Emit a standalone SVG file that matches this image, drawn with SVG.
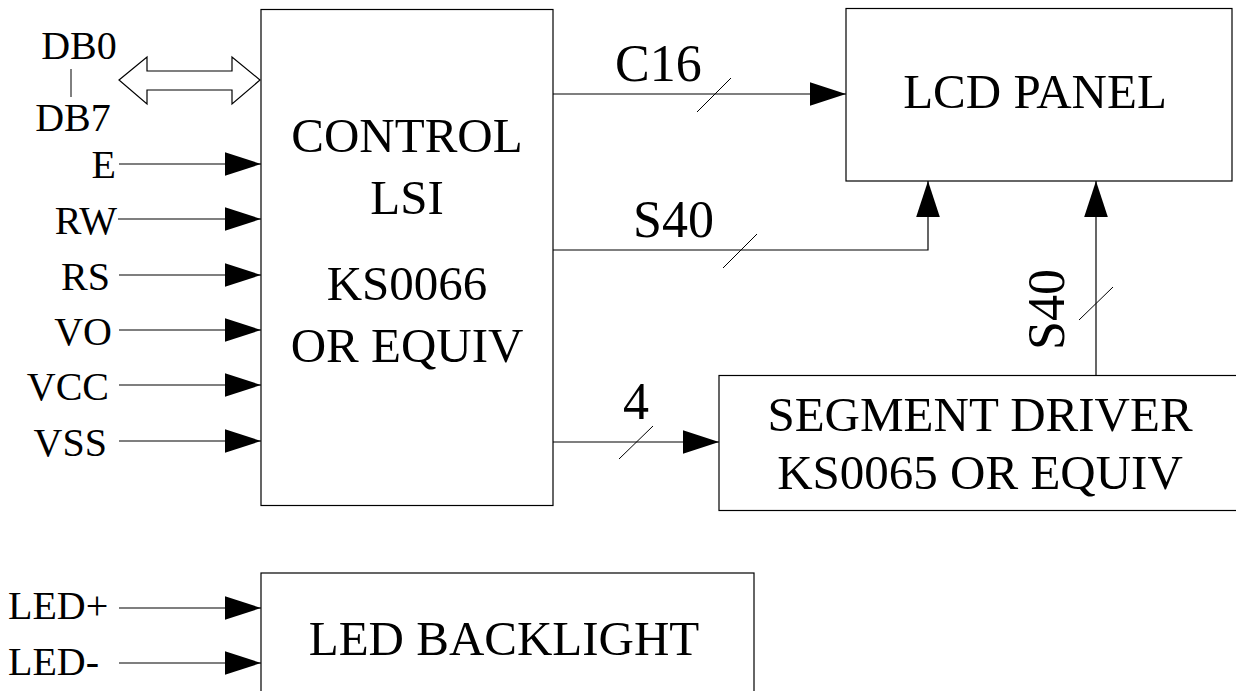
<svg xmlns="http://www.w3.org/2000/svg" width="1236" height="691" viewBox="0 0 1236 691" font-family="'Liberation Serif', 'Times New Roman', Times, serif">
<style>
.box{fill:#fff;stroke:#000;stroke-width:1.2}
.ln{fill:none;stroke:#000;stroke-width:1.2}
.sl{fill:none;stroke:#000;stroke-width:1}
text{font-family:'Liberation Serif','Times New Roman',Times,serif;fill:#000}
.big{font-size:49px}
.lab{font-size:40px}
.bus{font-size:52px}
</style>
<defs>
<marker id="ah" markerUnits="userSpaceOnUse" markerWidth="36" markerHeight="24" viewBox="0 0 35 23" refX="35" refY="11.5" orient="auto">
<path d="M0,0 L35,11.5 L0,23 Z" fill="#000"/>
</marker>
</defs>
<rect width="1236" height="691" fill="#fff"/>

<g id="control">
<rect class="box" x="261" y="9.5" width="292" height="496"/>
<text class="big" x="407" y="152" text-anchor="middle">CONTROL</text>
<text class="big" x="407" y="214" text-anchor="middle">LSI</text>
<text class="big" x="407" y="300" text-anchor="middle">KS0066</text>
<text class="big" x="407" y="362" text-anchor="middle">OR EQUIV</text>
</g>

<g id="lcd">
<rect class="box" x="846" y="8.5" width="386" height="172.5"/>
<text class="big" x="1035" y="108" text-anchor="middle">LCD PANEL</text>
</g>

<g id="segment">
<rect class="box" x="719" y="375.5" width="530" height="135"/>
<text class="big" x="980" y="431" text-anchor="middle">SEGMENT DRIVER</text>
<text class="big" x="980" y="489" text-anchor="middle">KS0065 OR EQUIV</text>
</g>

<g id="backlight">
<rect class="box" x="261" y="573" width="493" height="140"/>
<text class="big" x="504" y="655" text-anchor="middle">LED BACKLIGHT</text>
</g>

<g id="labels">
<text class="lab" x="79" y="59" text-anchor="middle">DB0</text>
<text class="lab" x="73" y="131" text-anchor="middle">DB7</text>
<text class="lab" x="116" y="178" text-anchor="end">E</text>
<text class="lab" x="117" y="234" text-anchor="end">RW</text>
<text class="lab" x="110" y="290" text-anchor="end">RS</text>
<text class="lab" x="112" y="345" text-anchor="end">VO</text>
<text class="lab" x="109" y="400" text-anchor="end">VCC</text>
<text class="lab" x="107" y="456" text-anchor="end">VSS</text>
<text class="lab" x="8" y="619">LED+</text>
<text class="lab" x="8" y="675">LED-</text>
<text class="bus" x="615" y="81">C16</text>
<text class="bus" x="633" y="237">S40</text>
<text class="bus" x="636" y="419" text-anchor="middle">4</text>
<text class="bus" x="1064" y="350" transform="rotate(-90 1064 350)">S40</text>
</g>

<g id="connectors">
<line class="sl" x1="71" y1="69" x2="71" y2="97"/>
<polygon class="box" points="119,80 147,57 147,71 232,71 232,57 260,80 232,104 232,90 147,90 147,104"/>
<line class="ln" x1="119" y1="164" x2="261" y2="164" marker-end="url(#ah)"/>
<line class="ln" x1="118" y1="219" x2="261" y2="219" marker-end="url(#ah)"/>
<line class="ln" x1="119" y1="275" x2="261" y2="275" marker-end="url(#ah)"/>
<line class="ln" x1="119" y1="330" x2="261" y2="330" marker-end="url(#ah)"/>
<line class="ln" x1="119" y1="385" x2="261" y2="385" marker-end="url(#ah)"/>
<line class="ln" x1="119" y1="441" x2="261" y2="441" marker-end="url(#ah)"/>
<line class="ln" x1="119" y1="608" x2="261" y2="608" marker-end="url(#ah)"/>
<line class="ln" x1="119" y1="663" x2="261" y2="663" marker-end="url(#ah)"/>
<line class="ln" x1="553" y1="94" x2="846" y2="94" marker-end="url(#ah)"/>
<line class="sl" x1="697" y1="112" x2="731" y2="78"/>
<polyline class="ln" points="553,250 928,250 928,181" marker-end="url(#ah)"/>
<line class="sl" x1="723" y1="268" x2="757" y2="234"/>
<line class="ln" x1="553" y1="442" x2="719" y2="442" marker-end="url(#ah)"/>
<line class="sl" x1="619" y1="459" x2="653" y2="426"/>
<line class="ln" x1="1096" y1="375" x2="1096" y2="181" marker-end="url(#ah)"/>
<line class="sl" x1="1079" y1="320" x2="1113" y2="287"/>
</g>
</svg>
